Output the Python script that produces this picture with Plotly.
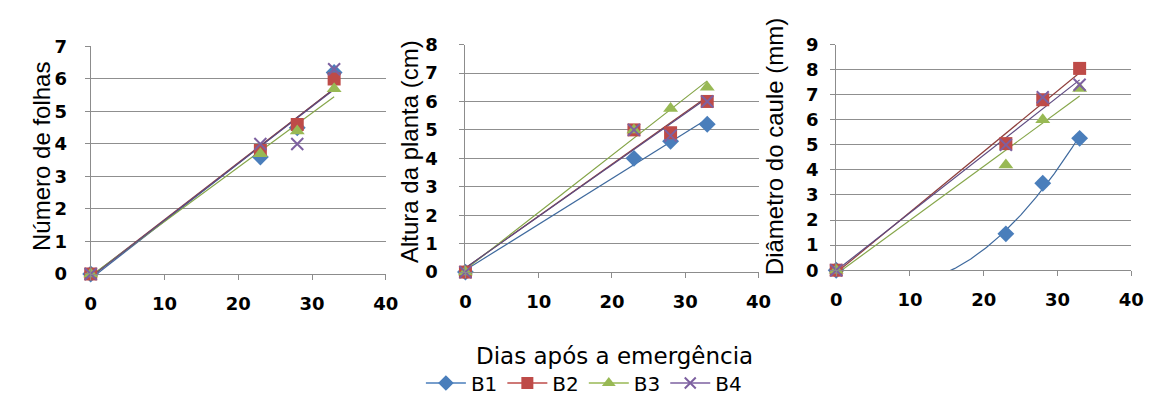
import numpy as np
import plotly.graph_objects as go

# ---------------- data ----------------
dias = [0, 23, 28, 33]
series_names = ["B1", "B2", "B3", "B4"]

folhas_b1 = [0, 3.6, 4.5, 6.2]
folhas_b2 = [0, 3.8, 4.6, 6.0]
folhas_b3 = [0, 3.7, 4.4, 5.7]
folhas_b4 = [0, 4.0, 4.0, 6.3]

altura_b1 = [0, 4.0, 4.6, 5.2]
altura_b2 = [0, 5.0, 4.9, 6.0]
altura_b3 = [0, 5.0, 5.75, 6.5]
altura_b4 = [0, 5.0, 4.8, 6.0]

diametro_b1 = [0, 1.45, 3.47, 5.26]
diametro_b2 = [0, 5.05, 6.8, 8.05]
diametro_b3 = [0, 4.2, 6.0, 7.25]
diametro_b4 = [0, 5.0, 6.9, 7.4]

titulos_y = ["Número de folhas", "Altura da planta (cm)", "Diâmetro do caule (mm)"]
titulo_x = "Dias após a emergência"
y_max = [7, 8, 9]
x_ticks = [0, 10, 20, 30, 40]

# trendline polynomial order per panel / series (Excel-like trendlines)
ordem_p1 = [1, 1, 1, 1]
ordem_p2 = [1, 1, 1, 1]
ordem_p3 = [2, 1, 1, 1]

# ---------------- style ----------------
colors = ["#4A7EBB", "#BE4B48", "#98B954", "#7D60A0"]
line_colors = ["#3F6A9E", "#8E3E3B", "#86A64A", "#5E4A80"]
symbols = ["diamond", "square", "triangle-up", "x-thin"]
sizes = [13, 13, 13, 12]

panels = [
    ([folhas_b1, folhas_b2, folhas_b3, folhas_b4], ordem_p1),
    ([altura_b1, altura_b2, altura_b3, altura_b4], ordem_p2),
    ([diametro_b1, diametro_b2, diametro_b3, diametro_b4], ordem_p3),
]

W, H = 1152, 403
# pixel geometry of plot areas: (x0, x1, ybottom, ytop)
geom = [(78, 378, 269, 29), (459, 757, 267, 27), (836, 1136, 265, 27)]
ytitle_pos = [(28, 145), (402, 140), (774, 135)]
y_standoff = [14, 18, 8]

fig = go.Figure()
tick_font = dict(family="DejaVu Sans", size=18, color="#000000", weight="bold")

for p, (vals, ordens) in enumerate(panels):
    xa = "x" if p == 0 else f"x{p+1}"
    ya = "y" if p == 0 else f"y{p+1}"
    xd = np.array(dias, dtype=float)
    # trendlines
    for i, v in enumerate(vals):
        coef = np.polyfit(xd, np.array(v, dtype=float), ordens[i])
        xs = np.linspace(min(dias), max(dias), 200)
        ys = np.polyval(coef, xs)
        fig.add_trace(go.Scatter(
            x=xs, y=ys, mode="lines", xaxis=xa, yaxis=ya,
            line=dict(color=line_colors[i], width=1.2),
            showlegend=False, hoverinfo="skip"))
    # markers
    for i, v in enumerate(vals):
        fig.add_trace(go.Scatter(
            x=dias, y=v, mode="markers", xaxis=xa, yaxis=ya,
            marker=dict(symbol=symbols[i], size=sizes[i], color=colors[i],
                        line=dict(width=2 if symbols[i] == "x-thin" else 0,
                                  color=colors[i])),
            cliponaxis=False, showlegend=False, name=series_names[i]))

# legend proxies (line + marker)
for i, n in enumerate(series_names):
    fig.add_trace(go.Scatter(
        x=[None], y=[None], mode="lines+markers", name=n,
        line=dict(color=colors[i], width=1.5),
        marker=dict(symbol=symbols[i], size=sizes[i] - 1, color=colors[i],
                    line=dict(width=2 if symbols[i] == "x-thin" else 0, color=colors[i])),
        showlegend=True))

layout = dict(
    width=W, height=H,
    margin=dict(l=0, r=0, t=0, b=0),
    paper_bgcolor="white", plot_bgcolor="white",
    showlegend=True,
    legend=dict(orientation="h", x=0.503, xanchor="center", y=(H - 384) / H,
                yanchor="middle", font=dict(family="DejaVu Sans", size=20, color="#000"),
                itemwidth=40, tracegroupgap=0, bgcolor="rgba(0,0,0,0)"),
    annotations=[],
)

for p in range(3):
    x0, x1, yb, yt = geom[p]
    kx = "xaxis" if p == 0 else f"xaxis{p+1}"
    ky = "yaxis" if p == 0 else f"yaxis{p+1}"
    ya = "y" if p == 0 else f"y{p+1}"
    xa = "x" if p == 0 else f"x{p+1}"
    layout[kx] = dict(
        domain=[x0 / W, x1 / W], range=[0, 40], anchor=ya,
        tickvals=x_ticks, showgrid=False, zeroline=False,
        showline=True, linecolor="#8C8C8C", linewidth=1,
        ticks="outside", ticklen=5, tickcolor="#8C8C8C",
        ticklabelstandoff=8, tickfont=tick_font, fixedrange=True)
    layout[ky] = dict(
        domain=[1 - yb / H, 1 - yt / H], range=[0, y_max[p]], anchor=xa,
        dtick=1, showgrid=True, gridcolor="#8F8F8F", gridwidth=1,
        zeroline=False, showline=True, linecolor="#8C8C8C", linewidth=1,
        ticks="outside", ticklen=5, tickcolor="#8C8C8C",
        ticklabelstandoff=y_standoff[p], tickfont=tick_font, fixedrange=True)
    tx, ty = ytitle_pos[p]
    layout["annotations"].append(dict(
        text=titulos_y[p], x=tx / W, y=1 - ty / H, xref="paper", yref="paper",
        showarrow=False, textangle=-90, xanchor="center", yanchor="middle",
        font=dict(family="Liberation Sans", size=24, color="#000")))

layout["annotations"].append(dict(
    text=titulo_x, x=611 / W, y=(H - 356) / H, xref="paper", yref="paper",
    showarrow=False, xanchor="center", yanchor="middle",
    font=dict(family="DejaVu Sans", size=23, color="#000")))

fig.update_layout(**layout)
fig.write_html("out.html")
